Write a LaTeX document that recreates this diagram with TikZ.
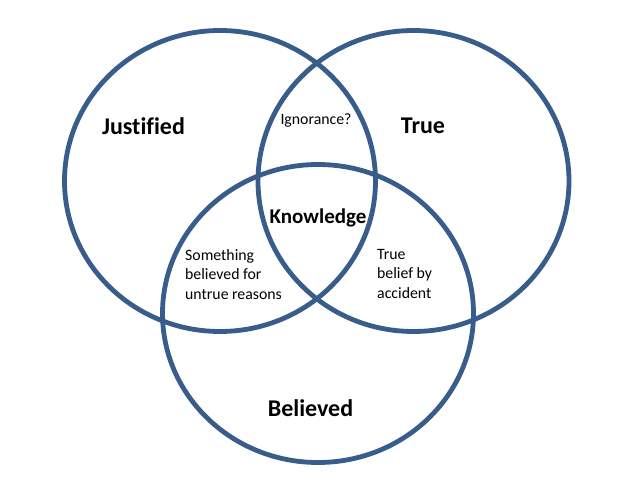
\documentclass[tikz,border=0pt]{standalone}
\usepackage{fontspec}
\setmainfont[Ligatures=NoCommon]{Carlito}
\definecolor{venn}{RGB}{56,93,138}
\tikzset{
  ring/.style={draw=venn, line width=4.8pt},
  biglabel/.style={font=\fontsize{24}{28}\selectfont\bfseries, inner sep=0pt},
  midlabel/.style={font=\fontsize{21}{25}\selectfont\bfseries, inner sep=0pt},
  smalllabel/.style={font=\fontsize{15.8}{19.5}\selectfont, inner sep=0pt, align=left}
}
\begin{document}
\begin{tikzpicture}[x=1pt,y=-1pt]
\useasboundingbox (0,0) rectangle (638,479);
\fill[white] (0,0) rectangle (638,479);
\draw[ring] (220,181) ellipse [x radius=155.5, y radius=150.5];
\draw[ring] (413.5,181) ellipse [x radius=155.5, y radius=150.5];
\draw[ring] (318,313.5) ellipse [x radius=155.5, y radius=149];
\node[biglabel] (just) at (143.5,126) {Justified};
\node[biglabel] (true) at (423,126) {True};
\node[biglabel] (bel) at (310.5,408) {Believed};
\node[midlabel] (know) at (318,218) {Knowledge};
\node[smalllabel] (ign) at (316,120) {Ignorance?};
\node[smalllabel, anchor=north west] (some) at (185,249) {Something\\believed for\\untrue reasons};
\node[smalllabel, anchor=north west] (acc) at (377,249) {True\\belief by\\accident};
\end{tikzpicture}
\end{document}
